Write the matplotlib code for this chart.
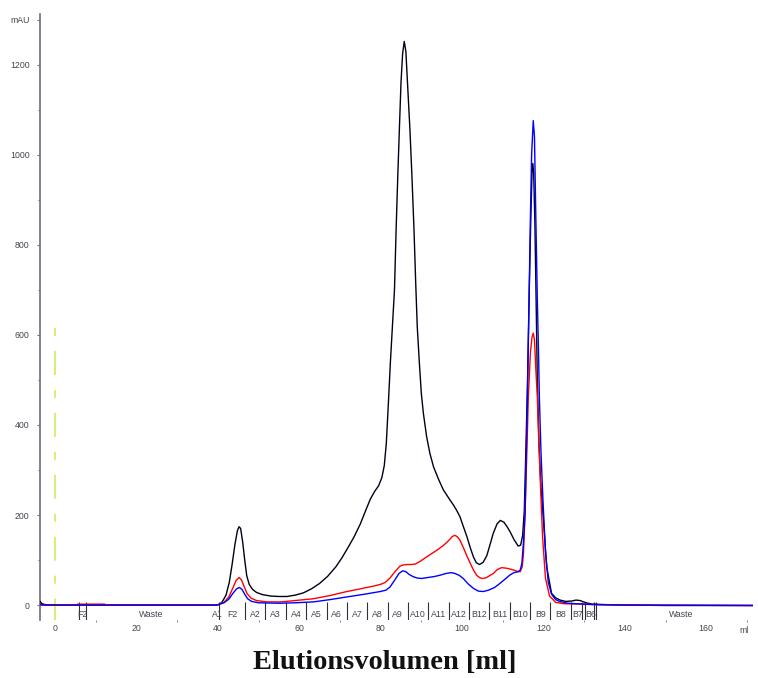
import matplotlib
matplotlib.use("Agg")
import matplotlib.pyplot as plt
from matplotlib.ticker import MultipleLocator

# ----- chromatogram traces (ml, mAU) ------------------------------------------
black_ml = [-3.7, -3.2, -2.5, 0, 20, 39.5, 40.2, 41.0, 42.0, 42.8, 43.5, 44.2, 44.8,
            45.2, 45.6, 46.1, 46.6, 47.1, 47.7, 48.5, 49.5, 51, 53, 55, 57, 59, 61,
            63, 65, 67, 69, 70.5, 72, 73.5, 75, 76.5, 77.5, 78.5, 79.5, 80.3, 80.9,
            81.4, 81.9, 82.4, 82.9, 83.4, 83.8, 84.2, 84.6, 85.0, 85.4, 85.8, 86.2,
            86.6, 87.2, 87.7, 88.2, 88.6, 89.0, 89.5, 90.0, 90.5, 91.3, 92.1, 93.0,
            94.2, 95.4, 96.7, 97.9, 98.7, 99.5, 100.3, 101.2, 102.0, 102.8, 103.5,
            104.3, 105.2, 106.1, 107.0, 107.7, 108.6, 109.4, 110.3, 111.0, 111.8,
            112.8, 113.8, 114.4, 114.9, 115.3, 115.7, 116.1, 116.5, 116.9, 117.2,
            117.4, 117.6, 117.9, 118.2, 118.5, 118.9, 119.4, 120.0, 120.8, 122.0,
            123.0, 124.1, 125.5, 127, 128, 129, 130.5, 132, 135, 140, 150, 171.5]
black_mau = [8, 3, 1, 0, 0, 0, 1, 6, 22, 50, 90, 135, 165,
             174, 170, 140, 100, 65, 46, 35, 28, 23, 20, 19, 19, 22, 27,
             36, 48, 64, 85, 105, 128, 152, 180, 214, 236, 252, 265, 283, 310,
             360, 448, 540, 620, 700, 833, 950, 1056, 1160, 1225, 1252, 1230,
             1160, 1056, 950, 833, 720, 618, 540, 470, 426, 374, 337, 307,
             280, 256, 238, 222, 210, 196, 175, 152, 128, 107, 94,
             90, 95, 110, 138, 160, 180, 188, 184, 175, 163,
             145, 131, 133, 155, 210, 350, 500, 690, 860, 960,
             981, 960, 850, 680, 500, 360, 260, 190, 85, 26,
             16, 11, 8, 9, 11, 10, 5, 2, 1, 0, -1, -1]

red_ml = [-3.7, 5.3, 5.5, 12.2, 12.4, 39.5, 40.2, 41.5, 42.7, 43.7, 44.5, 45.2, 45.8,
          46.5, 47.2, 48.2, 49.5, 52, 55.5, 59, 63.5, 67.5, 71.7, 75, 78.2, 80, 81.1,
          82.3, 83.5, 84.7, 85.5, 86.5, 87.5, 88.5, 89.7, 91, 92.5, 94, 95.5, 96.7,
          97.6, 98.2, 98.8, 99.5, 100.3, 101.2, 102.0, 102.8, 103.6, 104.5, 105.2,
          106.0, 106.9, 107.7, 108.7, 109.7, 110.8, 111.8, 112.6, 113.5, 114.3,
          114.8, 115.1, 115.5, 115.8, 116.3, 116.8, 117.2, 117.5, 117.8, 118.1,
          118.5, 118.8, 119.3, 119.8, 120.5, 121.5, 123, 125, 130, 132, 140, 171.5]
red_mau = [0, 0, 2, 2, 0, 0, 1, 6, 18, 38, 55, 61, 56,
           40, 25, 15, 10, 7, 7, 10, 14, 21, 30, 36, 42, 46, 50,
           60, 74, 86, 89, 90, 90, 91, 97, 105, 114, 123, 133, 143,
           152, 155, 152, 144, 128, 109, 93, 78, 66, 60, 59,
           61, 66, 70, 79, 83, 82, 80, 78, 75, 74,
           85, 115, 210, 300, 463, 560, 595, 604, 590, 530,
           463, 380, 260, 150, 60, 20, 6, 3, 2, 1, 0, -1]

blue_ml = [-3.7, -3.0, 39.5, 40.2, 41.5, 42.7, 43.7, 44.6, 45.3, 45.9, 46.6, 47.3,
           48.3, 50, 55, 59, 63.5, 67.5, 71.7, 76, 79.9, 81.3, 82.3, 83.5, 84.5,
           85.4, 86.2, 87.0, 88.0, 89.0, 90.1, 91.5, 93, 94.5, 96, 97.3, 98.3, 99.3,
           100.3, 101.5, 102.8, 104, 105.2, 106.5, 108, 109.3, 110.5, 111.8, 112.8,
           113.8, 114.3, 114.7, 115.1, 115.5, 116.0, 116.4, 116.8, 117.1, 117.5,
           117.8, 118.1, 118.5, 118.8, 119.0, 119.4, 119.9, 120.5, 121.2, 122, 123,
           124, 126, 130, 133, 140, 171.5]
blue_mau = [2, 0, 0, 1, 5, 13, 26, 36, 39, 35, 24, 14,
            8, 5, 4, 5, 7, 12, 18, 24, 30, 33, 40, 56, 70,
            76, 74, 68, 63, 60, 59, 61, 63, 66, 70, 72, 70, 66,
            59, 47, 37, 31, 30, 33, 39, 48, 57, 67, 72,
            74, 78, 92, 140, 204, 426, 640, 860, 1000, 1076,
            1040, 880, 680, 560, 463, 340, 230, 120, 50, 24, 12,
            8, 4, 2, 1, 0, -1]

# ----- fraction marks ---------------------------------------------------------
frac_lines = [5.9, 7.6, 40.2, 46.7, 51.7, 56.7, 61.7, 66.7, 71.7, 76.7, 81.7, 86.7,
              91.7, 96.7, 101.7, 106.7, 111.7, 116.7, 121.7, 126.7, 129.6, 130.1,
              132.4, 132.9]
frac_names = ["F2", "Waste", "A1", "F2", "A2", "A3", "A4", "A5", "A6", "A7", "A8",
              "A9", "A10", "A11", "A12", "B12", "B11", "B10", "B9", "B8", "B7", "B6",
              "Waste"]
frac_pos = [6.8, 23.6, 40.0, 43.5, 49.2, 54.2, 59.2, 64.2, 69.2, 74.2, 79.2, 84.2,
            89.2, 94.2, 99.2, 104.2, 109.2, 114.2, 119.2, 124.2, 128.4, 131.7, 153.8]

inject_ml = 0
x_ticks = [0, 20, 40, 60, 80, 100, 120, 140, 160]
y_ticks = [0, 200, 400, 600, 800, 1000, 1200, 1300]
y_tick_labels = ["0", "200", "400", "600", "800", "1000", "1200", "mAU"]

GREY = "#6e6e7e"
TXT = "#444450"

fig = plt.figure(figsize=(7.58, 6.78), dpi=100)
ax = fig.add_axes([0.0528, 0.0855, 0.9406, 0.8939])
ax.set_xlim(-3.7, 171.5)
ax.set_ylim(-33.3, 1313)

# injection mark (dash-dot style, light lime)
ax.plot([inject_ml, inject_ml], [616, -33], color="#cdf06a", lw=1.3,
        linestyle=(0, (4.4, 8.3, 13.3, 8.3)), zorder=1)

# fraction marks and names
ax.vlines(frac_lines, -33.3, 7, color="#30303c", lw=0.8, zorder=2)
for name, pos in zip(frac_names, frac_pos):
    ax.text(pos, -20, name, ha="center", va="center", fontsize=6.3,
            family="Liberation Sans", color=TXT, zorder=2)

ax.plot(black_ml, black_mau, color="#000018", lw=1.0, zorder=3)
ax.plot(red_ml, red_mau, color="#ff0000", lw=1.0, zorder=4)
ax.plot(blue_ml, blue_mau, color="#0000ff", lw=1.0, zorder=5)

for side in ("top", "right", "bottom"):
    ax.spines[side].set_visible(False)
ax.spines["left"].set_color(GREY)
ax.spines["left"].set_linewidth(1.2)

ax.set_yticks(y_ticks)
ax.set_yticklabels(y_tick_labels)
ax.yaxis.set_minor_locator(MultipleLocator(100))
ax.tick_params(axis="y", which="both", direction="out", colors=GREY,
               labelcolor=TXT, labelsize=6.3, length=2.5, width=0.8, pad=5)
ax.tick_params(axis="y", which="minor", length=1.5)

ax.set_xticks(x_ticks)
ax.xaxis.set_minor_locator(MultipleLocator(10))
ax.tick_params(axis="x", which="both", direction="out", colors=GREY,
               labelcolor=TXT, labelsize=6.3, length=0, width=0.6, pad=3)
ax.tick_params(axis="x", which="minor", length=1.5)
for lab in ax.get_xticklabels() + ax.get_yticklabels():
    lab.set_family("Liberation Sans")

ax.text(169.3, -47, "ml", ha="center", va="top", fontsize=6.3,
        family="Liberation Sans", color=TXT)

fig.text(0.508, 0.0235, "Elutionsvolumen [ml]", ha="center", va="center",
         fontsize=20.5, fontweight="bold", family="Liberation Serif", color="#111111")

fig.savefig("out.png", dpi=100)
